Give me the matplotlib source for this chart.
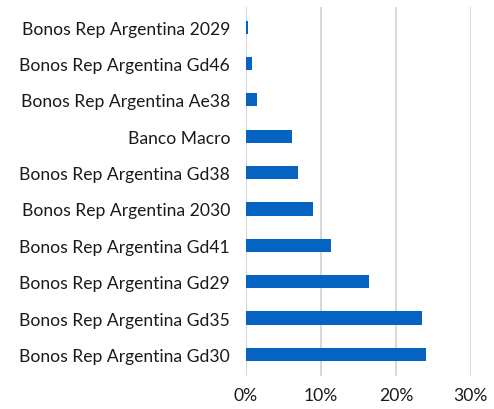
import matplotlib
import matplotlib.pyplot as plt
from matplotlib.ticker import FuncFormatter

matplotlib.use('Agg')

# Datos (de arriba hacia abajo)
categorias = [
    "Bonos Rep Argentina 2029",
    "Bonos Rep Argentina Gd46",
    "Bonos Rep Argentina Ae38",
    "Banco Macro",
    "Bonos Rep Argentina Gd38",
    "Bonos Rep Argentina 2030",
    "Bonos Rep Argentina Gd41",
    "Bonos Rep Argentina Gd29",
    "Bonos Rep Argentina Gd35",
    "Bonos Rep Argentina Gd30",
]
valores = [0.27, 0.8, 1.45, 6.2, 6.9, 8.9, 11.4, 16.4, 23.5, 24.0]
ticks_x = [0, 10, 20, 30]

plt.rcParams['font.family'] = ['Lato', 'DejaVu Sans']

fig = plt.figure(figsize=(4.94, 4.10), dpi=100)
ax = fig.add_axes([0.498, 0.080, 0.455, 0.900])

pos = list(range(len(categorias)))
ax.barh(pos, valores, height=0.36, color='#0563C1', zorder=3)

ax.set_xlim(0, 30)
ax.set_ylim(len(categorias) - 0.4, -0.55)
ax.set_xticks(ticks_x)
ax.xaxis.set_major_formatter(FuncFormatter(lambda v, p: f"{v:.0f}%"))
ax.set_yticks(pos)
ax.set_yticklabels(categorias)

ax.grid(axis='x', color='#d9d9d9', linewidth=1.5, zorder=0)
for s in ax.spines.values():
    s.set_visible(False)
ax.tick_params(axis='both', length=0, labelsize=12.6, colors='#1a1a1a')
ax.tick_params(axis='y', pad=11.5)
ax.tick_params(axis='x', pad=8)

plt.savefig('out.png', dpi=100)
plt.close()
